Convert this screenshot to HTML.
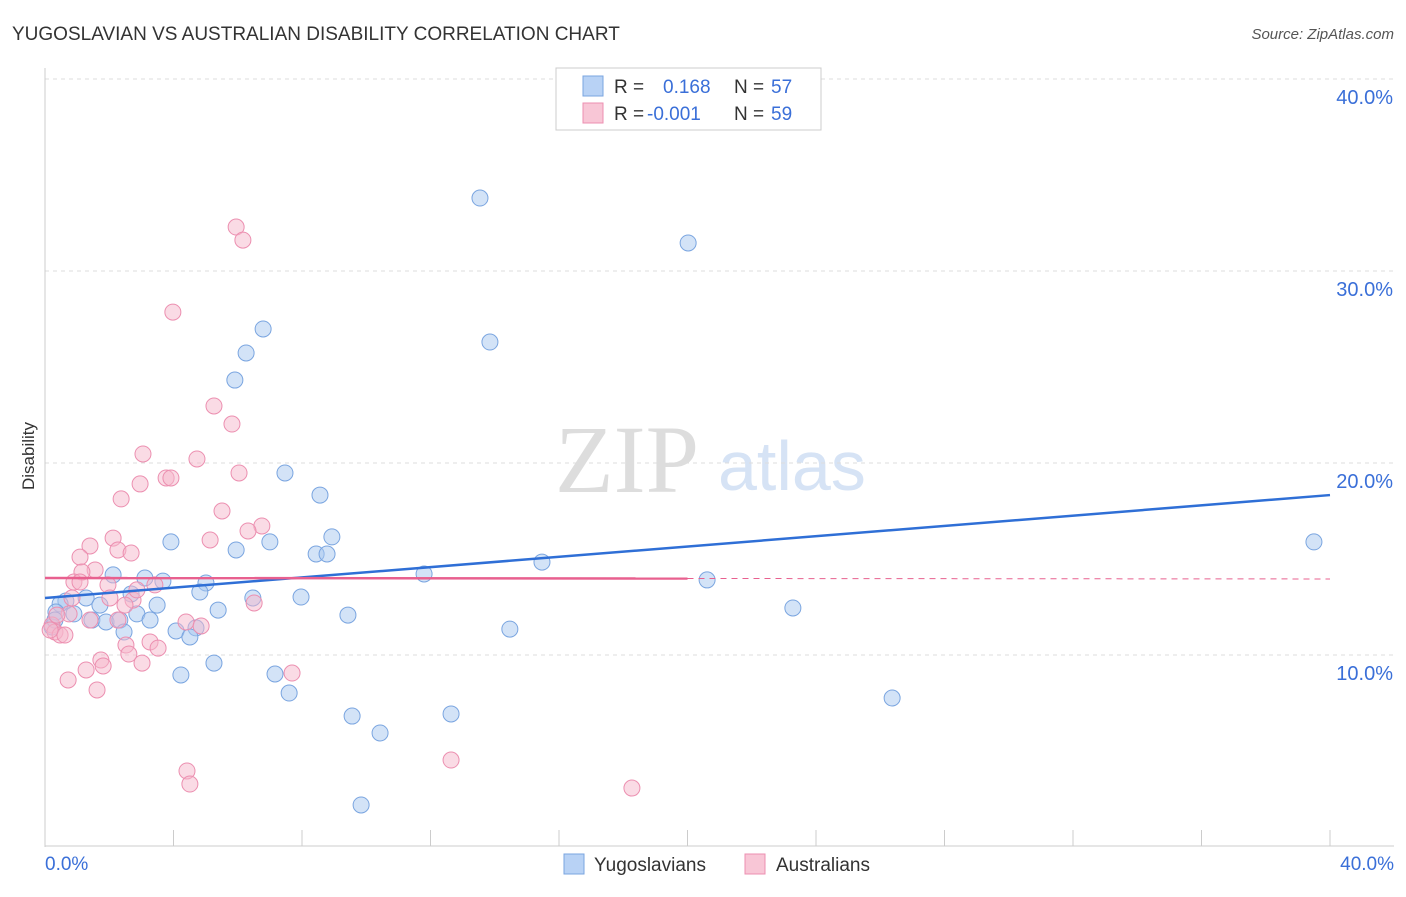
<!DOCTYPE html>
<html><head><meta charset="utf-8"><style>
body{margin:0;background:#fff;font-family:"Liberation Sans",sans-serif;}
</style></head><body>
<svg width="1406" height="892" xmlns="http://www.w3.org/2000/svg">
<text x="12" y="40" font-size="19" fill="#333">YUGOSLAVIAN VS AUSTRALIAN DISABILITY CORRELATION CHART</text>
<text x="1394" y="39" font-size="15" fill="#555" text-anchor="end" font-style="italic">Source: ZipAtlas.com</text>
<text x="555" y="492" font-size="96" fill="#ddd" font-family="Liberation Serif,serif">ZIP</text>
<text x="718" y="490" font-size="70" fill="#d6e3f5">atlas</text>
<g id="grid"></g><g id="axes"></g><g id="marks"></g>
<text transform="translate(34,456) rotate(-90)" font-size="17" fill="#333" text-anchor="middle">Disability</text>
<text x="45" y="870" font-size="19" fill="#3a6fd8">0.0%</text>
<text x="1394" y="870" font-size="19" fill="#3a6fd8" text-anchor="end">40.0%</text>
<g>
<rect x="556" y="68" width="265" height="62" fill="#fff" stroke="#ccc"/>
<rect x="583" y="76" width="20" height="20" fill="#b8d2f5" stroke="#7aa5e0"/>
<rect x="583" y="103" width="20" height="20" fill="#f8c6d6" stroke="#ec8fb0"/>
<text x="614" y="93" font-size="19" fill="#333">R = <tspan x="663" fill="#3a6fd8">0.168</tspan><tspan x="734">N = </tspan><tspan x="771" fill="#3a6fd8">57</tspan></text>
<text x="614" y="120" font-size="19" fill="#333">R = <tspan x="647" fill="#3a6fd8">-0.001</tspan><tspan x="734">N = </tspan><tspan x="771" fill="#3a6fd8">59</tspan></text>
</g>
<g>
<rect x="564" y="854" width="20" height="20" fill="#b8d2f5" stroke="#7aa5e0"/>
<text x="594" y="871" font-size="19" fill="#333">Yugoslavians</text>
<rect x="745" y="854" width="20" height="20" fill="#f8c6d6" stroke="#ec8fb0"/>
<text x="776" y="871" font-size="19" fill="#333">Australians</text>
</g>
</svg>
<script>
const yTicks=[10,20,30,40];
const xTicks=[0,4,8,12,16,20,24,28,32,36,40];
const blueX=[13.54,20.02,6.79,13.85,6.26,5.91,7.47,8.56,8.93,3.92,7.00,5.95,8.44,8.78,15.47,11.80,20.61,2.12,3.11,3.67,5.01,2.68,4.82,1.28,7.97,6.47,0.65,0.47,1.71,3.49,23.28,5.39,0.34,0.90,2.86,9.43,1.46,1.90,2.33,3.27,0.22,2.46,4.08,14.47,4.70,4.51,5.26,4.23,7.16,7.60,26.37,9.56,12.64,10.43,9.84,39.50,0.31];
const blueY=[33.80,31.46,26.98,26.30,25.73,24.32,19.48,18.33,16.15,15.89,15.89,15.47,15.26,15.26,14.84,14.22,13.91,14.17,14.01,13.85,13.75,13.18,13.28,12.97,13.02,12.97,12.81,12.66,12.60,12.60,12.45,12.34,12.24,12.14,12.14,12.08,11.82,11.72,11.82,11.82,11.46,11.20,11.25,11.35,11.41,10.94,9.58,8.96,9.01,8.02,7.76,6.82,6.93,5.94,2.19,15.89,11.82];
const pinkX=[5.95,6.16,3.98,5.26,5.82,3.05,4.73,6.04,3.77,3.92,2.96,2.37,5.51,6.75,6.32,2.12,5.14,1.40,2.27,2.68,1.09,1.56,1.15,0.90,1.09,1.96,3.42,2.74,0.84,2.49,6.51,0.75,1.40,2.27,4.39,4.86,0.22,0.31,0.47,0.62,3.27,2.52,3.52,2.61,1.74,3.02,1.81,1.28,7.69,0.72,1.62,4.42,4.51,12.64,18.27,0.16,0.37,2.02,2.86];
const pinkY=[32.29,31.61,27.86,22.97,22.03,20.47,20.21,19.48,19.22,19.22,18.91,18.13,17.50,16.72,16.46,16.09,15.99,15.68,15.47,15.31,15.10,14.43,14.32,13.80,13.80,13.65,13.65,12.86,12.97,12.60,12.71,12.14,11.82,11.82,11.72,11.51,11.56,11.20,11.04,11.04,10.68,10.52,10.36,10.05,9.74,9.58,9.43,9.22,9.06,8.70,8.18,3.96,3.28,4.53,3.07,11.30,12.08,12.97,13.39];
const blueTrend=[12.97,18.33];
const pinkTrend=[14.01,13.96];
const pinkSolidEnd=20;
const NS="http://www.w3.org/2000/svg";
const sx=v=>45+v*32.125, sy=v=>847-v*19.2;
function mk(t,a,p){const e=document.createElementNS(NS,t);for(const k in a)e.setAttribute(k,a[k]);document.getElementById(p).appendChild(e);return e;}
yTicks.forEach(t=>{
 const l=mk('line',{x1:45,x2:1394,y1:sy(t),y2:sy(t),stroke:'#ddd','stroke-dasharray':'4,4'},'grid');
 
 
 const tx=mk('text',{x:1393,y:sy(t)+25,'font-size':20,fill:'#3a6fd8','text-anchor':'end'},'grid');
 tx.textContent=t.toFixed(1)+'%';
 
 
});
const ya=mk('line',{x1:45,x2:45,y1:68,y2:847,stroke:'#ccc'},'axes');


const xa=mk('line',{x1:45,x2:1394,y1:846,y2:846,stroke:'#ccc'},'axes');


xTicks.forEach(t=>{const l=mk('line',{x1:sx(t),x2:sx(t),y1:830,y2:846,stroke:'#ccc'},'axes');
 
 });
function pts(X,Y,fill,stroke,name){X.forEach((x,i)=>{const c=mk('circle',{cx:sx(x),cy:sy(Y[i]),r:8,fill:fill,'fill-opacity':0.5,stroke:stroke,'stroke-width':1},'marks');
 
 });}
pts(blueX,blueY,'#a8c8f0','#7aa5e0','yugoslavian-point');
pts(pinkX,pinkY,'#f5b8cc','#ec8fb0','australian-point');
const bt=mk('line',{x1:sx(0),y1:sy(blueTrend[0]),x2:sx(40),y2:sy(blueTrend[1]),stroke:'#2f6fd6','stroke-width':2.5},'marks');


const pm=pinkTrend[0]+(pinkTrend[1]-pinkTrend[0])*pinkSolidEnd/40;
const pt=mk('line',{x1:sx(0),y1:sy(pinkTrend[0]),x2:sx(pinkSolidEnd),y2:sy(pm),stroke:'#e8608f','stroke-width':2.5},'marks');


const pd=mk('line',{x1:sx(pinkSolidEnd),y1:sy(pm),x2:sx(40),y2:sy(pinkTrend[1]),stroke:'#e8608f','stroke-width':1,'stroke-dasharray':'6,5'},'marks');


</script>
</body></html>
